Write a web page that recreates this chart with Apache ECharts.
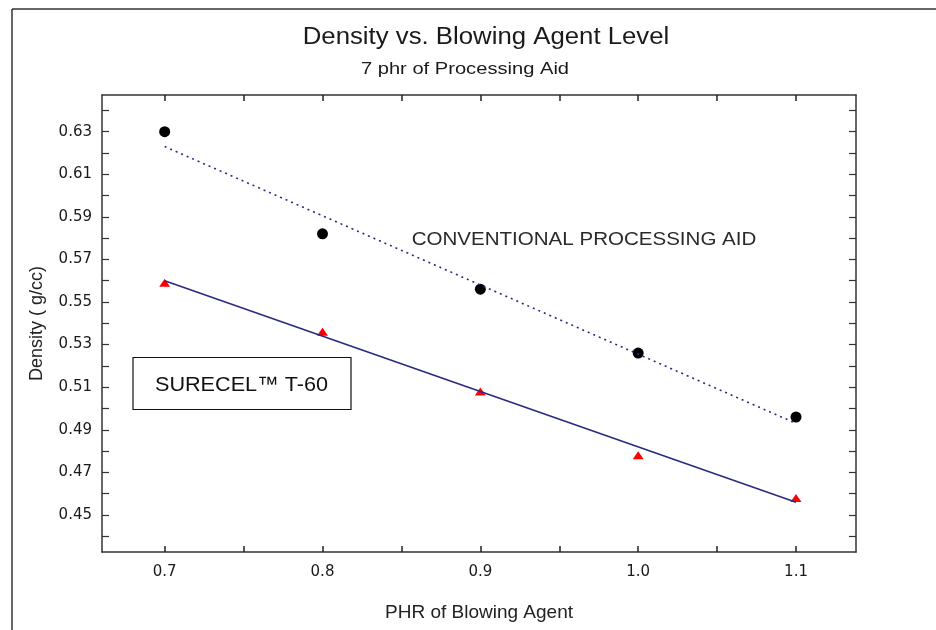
<!DOCTYPE html>
<html><head><meta charset="utf-8">
<script src="https://cdn.jsdelivr.net/npm/echarts@6/dist/echarts.min.js"></script>
<style>html,body{margin:0;padding:0;background:#fff}#c{width:936px;height:630px}</style>
</head><body><div id="c"></div>
<script>
var phr = [0.7, 0.8, 0.9, 1.0, 1.1];
var conventional = [0.630, 0.582, 0.556, 0.526, 0.496];
var surecel = [0.559, 0.536, 0.508, 0.478, 0.458];
var fitX = [0.7, 1.1];
var fitConventional = [0.623, 0.493];
var fitSurecel = [0.560, 0.456];
var xTicks = [0.70, 0.75, 0.80, 0.85, 0.90, 0.95, 1.00, 1.05, 1.10];
var xLabels = [0.7, 0.8, 0.9, 1.0, 1.1];
var yTicks = [0.44,0.45,0.46,0.47,0.48,0.49,0.50,0.51,0.52,0.53,0.54,0.55,0.56,0.57,0.58,0.59,0.60,0.61,0.62,0.63,0.64];
var yLabels = [0.45,0.47,0.49,0.51,0.53,0.55,0.57,0.59,0.61,0.63];

function pairs(xs, ys){ return xs.map(function(x,i){ return [x, ys[i]]; }); }

var font = 'Liberation Sans, Arial, sans-serif';
var tickFont = 'DejaVu Sans, sans-serif';
var axisLine = {show:true, lineStyle:{color:'#333', width:1.5}};
var chart = echarts.init(document.getElementById('c'));
chart.setOption({
  animation:false,
  backgroundColor:'#fff',
  grid:{left:102, right:80, top:95, bottom:78},
  xAxis:[{
    type:'value', min:0.6603, max:1.138, position:'bottom',
    name:'PHR of Blowing Agent', nameLocation:'middle', nameGap:51,
    nameTextStyle:{fontFamily:font, fontSize:19, color:'#222'},
    axisLine:axisLine,
    axisTick:{show:true, inside:true, length:6, customValues:xTicks, lineStyle:{color:'#222', width:1.5}},
    axisLabel:{customValues:xLabels, margin:13, fontFamily:tickFont, fontSize:15, color:'#1a1a1a',
      formatter:function(v){return v.toFixed(1);}},
    splitLine:{show:false}
  },{
    type:'value', min:0.6603, max:1.138, position:'top',
    axisLine:axisLine,
    axisTick:{show:true, inside:true, length:6, customValues:xTicks, lineStyle:{color:'#222', width:1.5}},
    axisLabel:{show:false}, splitLine:{show:false}
  }],
  yAxis:[{
    type:'value', min:0.4326, max:0.6472, position:'left',
    name:'Density ( g/cc)', nameLocation:'middle', nameGap:56, nameRotate:90,
    nameTextStyle:{fontFamily:font, fontSize:18, color:'#222'},
    axisLine:axisLine,
    axisTick:{show:true, inside:true, length:7, customValues:yTicks, lineStyle:{color:'#333', width:1.2}},
    axisLabel:{customValues:yLabels, margin:10, fontFamily:tickFont, fontSize:15, color:'#1a1a1a',
      formatter:function(v){return v.toFixed(2);}},
    splitLine:{show:false}
  },{
    type:'value', min:0.4326, max:0.6472, position:'right',
    axisLine:axisLine,
    axisTick:{show:true, inside:true, length:7, customValues:yTicks, lineStyle:{color:'#333', width:1.2}},
    axisLabel:{show:false}, splitLine:{show:false}
  }],
  series:[
    {type:'line', data:pairs(fitX, fitConventional), symbol:'none', silent:true,
     lineStyle:{color:'#2a2a80', width:1.6, type:[2,4]}},
    {type:'line', data:pairs(fitX, fitSurecel), symbol:'none', silent:true,
     lineStyle:{color:'#2a2a80', width:1.6}},
    {type:'scatter', data:pairs(phr, conventional), symbol:'circle', symbolSize:11,
     itemStyle:{color:'#000', opacity:1}},
    {type:'scatter', data:pairs(phr, surecel), symbol:'triangle', symbolSize:[11,8],
     itemStyle:{color:'#ff0000', opacity:1}}
  ],
  graphic:[
    {type:'line', shape:{x1:12, y1:9, x2:936, y2:9}, style:{stroke:'#333', lineWidth:1.5}},
    {type:'line', shape:{x1:12, y1:9, x2:12, y2:630}, style:{stroke:'#333', lineWidth:1.5}},
    {type:'text', x:486, y:38, scaleX:1.12,
     style:{text:'Density vs. Blowing Agent Level', fontFamily:font, fontSize:23, fill:'#1a1a1a', align:'center', verticalAlign:'middle'}},
    {type:'text', x:465, y:69, scaleX:1.22,
     style:{text:'7 phr of Processing Aid', fontFamily:font, fontSize:16.5, fill:'#1a1a1a', align:'center', verticalAlign:'middle'}},
    {type:'text', x:584, y:240, scaleX:1.11,
     style:{text:'CONVENTIONAL PROCESSING AID', fontFamily:font, fontSize:18.5, fill:'#2a2a2a', align:'center', verticalAlign:'middle'}},
    {type:'rect', shape:{x:133, y:357.5, width:218, height:52}, style:{fill:'#fff', stroke:'#111', lineWidth:1.2}},
    {type:'text', x:241.5, y:385, scaleX:1.03,
     style:{text:'SURECEL\u2122 T-60', fontFamily:font, fontSize:21, fill:'#111', align:'center', verticalAlign:'middle'}}
  ]
});
</script></body></html>
